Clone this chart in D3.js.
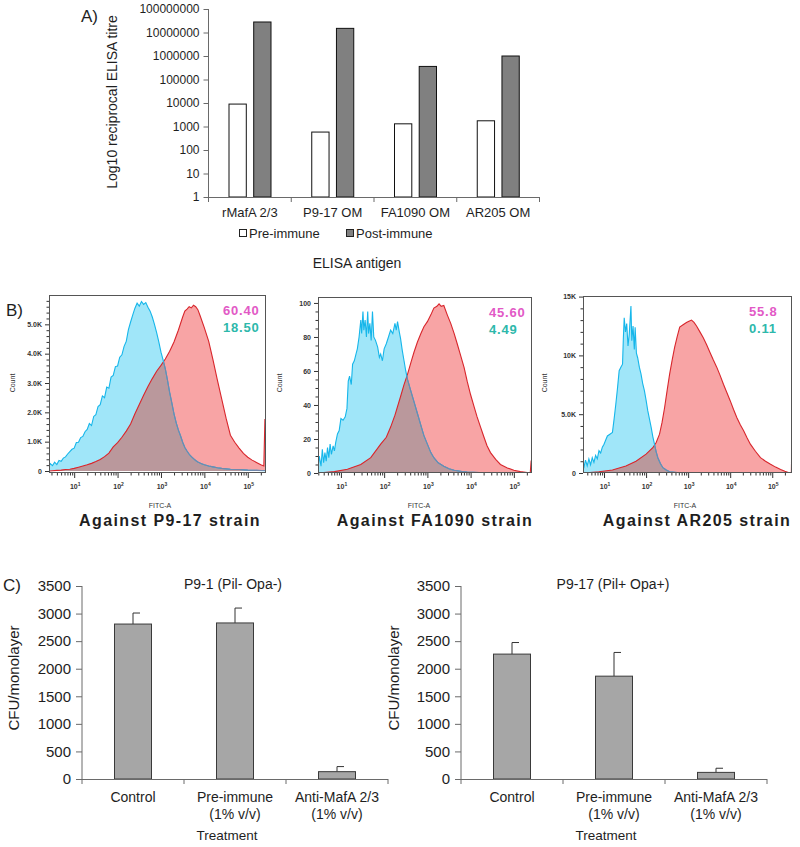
<!DOCTYPE html>
<html><head><meta charset="utf-8">
<script src="https://cdn.jsdelivr.net/npm/d3@7"></script>
<style>
body{margin:0;background:#fff}
svg{display:block}
text{font-family:"Liberation Sans",Arial,Helvetica,sans-serif}
</style>
</head><body>
<svg id="chart" width="800" height="847"></svg>
<script>
// ---------- Panel A : ELISA titres ----------
const elisaAntigens = ["rMafA 2/3", "P9-17 OM", "FA1090 OM", "AR205 OM"];
const preImmuneTitre = [9000, 580, 1300, 1750];
const postImmuneTitre = [28000000, 15000000, 360000, 1000000];
const titreTicks = [1, 10, 100, 1000, 10000, 100000, 1000000, 10000000, 100000000];
const legendLabels = ["Pre-immune", "Post-immune"];

// ---------- Panel B : flow cytometry histograms [log10 FITC-A, count] ----------
const p917Blue = [[0.40,0.12],[0.45,0.25],[0.50,0.18],[0.55,0.30],[0.60,0.22],[0.65,0.36],[0.70,0.33],[0.75,0.44],[0.80,0.48],[0.85,0.58],[0.90,0.66],[0.95,0.74],[1.00,0.78],[1.05,0.97],[1.10,0.98],[1.15,1.14],[1.20,1.18],[1.25,1.34],[1.30,1.42],[1.35,1.62],[1.40,1.55],[1.45,1.86],[1.50,1.92],[1.55,2.20],[1.60,2.26],[1.65,2.56],[1.70,2.50],[1.75,2.86],[1.80,2.82],[1.85,3.20],[1.90,3.26],[1.95,3.56],[2.00,3.58],[2.05,3.88],[2.10,3.96],[2.15,4.25],[2.20,4.42],[2.25,4.82],[2.30,5.08],[2.35,5.32],[2.40,5.55],[2.45,5.72],[2.50,5.62],[2.55,5.78],[2.60,5.68],[2.65,5.74],[2.70,5.58],[2.75,5.45],[2.80,5.25],[2.85,5.00],[2.90,4.72],[2.95,4.40],[3.00,4.05],[3.05,3.78],[3.10,3.48],[3.15,3.10],[3.20,2.68],[3.25,2.32],[3.30,1.95],[3.35,1.65],[3.40,1.40],[3.45,1.20],[3.50,0.98],[3.55,0.80],[3.60,0.68],[3.65,0.57],[3.70,0.49],[3.75,0.42],[3.80,0.36],[3.85,0.31],[3.90,0.27],[3.95,0.24],[4.00,0.21],[4.10,0.17],[4.20,0.14],[4.30,0.11],[4.40,0.09],[4.60,0.06],[4.80,0.05],[5.00,0.03],[5.20,0.02],[5.42,0.01]];
const p917Red = [[0.42,3.1],[0.43,0],[0.5,0.01],[0.6,0.02],[0.7,0.03],[0.8,0.05],[0.9,0.06],[1.0,0.09],[1.1,0.13],[1.2,0.17],[1.3,0.21],[1.4,0.26],[1.5,0.32],[1.6,0.39],[1.7,0.49],[1.8,0.61],[1.9,0.82],[2.0,0.97],[2.1,1.15],[2.2,1.36],[2.3,1.6],[2.4,1.95],[2.5,2.27],[2.6,2.58],[2.7,2.88],[2.8,3.15],[2.9,3.4],[3.0,3.6],[3.1,3.82],[3.2,4.08],[3.3,4.4],[3.4,4.8],[3.5,5.25],[3.55,5.45],[3.6,5.52],[3.65,5.6],[3.7,5.56],[3.75,5.65],[3.8,5.6],[3.85,5.5],[3.9,5.3],[4.0,4.88],[4.1,4.42],[4.2,3.78],[4.3,3.1],[4.4,2.45],[4.5,1.8],[4.6,1.22],[4.7,0.98],[4.8,0.78],[4.9,0.6],[5.0,0.47],[5.1,0.37],[5.2,0.29],[5.3,0.21],[5.37,0.17],[5.395,1.75],[5.42,1.75]];

const fa1090Blue = [[0.47,3],[0.50,10],[0.54,4],[0.57,14],[0.60,6],[0.63,12],[0.66,7],[0.69,15],[0.72,9],[0.75,17],[0.78,11],[0.82,16],[0.85,13],[0.88,18],[0.92,23],[0.96,25],[1.00,32],[1.05,31],[1.10,33],[1.14,38],[1.17,54],[1.20,57],[1.24,52],[1.27,64],[1.31,66],[1.35,70],[1.38,73],[1.42,80],[1.46,90],[1.48,82],[1.51,95],[1.53,84],[1.56,90],[1.59,80],[1.62,95],[1.64,82],[1.67,88],[1.70,78],[1.73,95],[1.76,80],[1.80,78],[1.85,74],[1.89,68],[1.92,70],[1.96,66],[2.00,73],[2.05,76],[2.10,80],[2.15,84],[2.20,82],[2.25,88],[2.28,84],[2.31,89],[2.35,83],[2.38,79],[2.42,72],[2.46,66],[2.50,60],[2.54,55],[2.62,48],[2.69,42],[2.77,35],[2.85,28],[2.92,22],[3.00,17],[3.08,12],[3.15,9],[3.25,6],[3.38,4],[3.50,2.5],[3.62,1.6],[3.80,0.9],[3.92,0.6],[4.20,0.3],[4.60,0.1],[5.00,0.05],[5.42,0]];
const fa1090Red = [[0.47,40],[0.48,0],[0.85,0.8],[1.15,2.2],[1.46,5],[1.69,9],[1.92,17],[2.05,21],[2.15,27],[2.25,34],[2.38,45],[2.46,52],[2.54,58],[2.62,65],[2.69,71],[2.77,77],[2.85,82],[2.92,86],[3.00,89],[3.08,93],[3.15,97],[3.22,98],[3.27,99.5],[3.32,98],[3.38,98.5],[3.46,93],[3.54,88],[3.62,82],[3.69,76],[3.77,69],[3.85,62],[3.92,54],[4.00,46],[4.08,39],[4.15,33],[4.23,27],[4.31,21],[4.38,16],[4.46,12],[4.58,8],[4.69,5],[4.85,3],[5.00,1.6],[5.15,0.8],[5.31,0.2],[5.38,0.2],[5.40,7],[5.42,7]];

const ar205Blue = [[0.50,0.3],[0.52,0.45],[0.56,1.1],[0.60,0.6],[0.64,1.2],[0.68,0.7],[0.72,1.3],[0.76,0.9],[0.80,1.5],[0.84,1.2],[0.88,1.9],[0.92,1.7],[0.96,2.2],[1.00,2.45],[1.04,2.8],[1.08,3.15],[1.14,3.3],[1.20,3.45],[1.24,4.6],[1.28,5.85],[1.32,7.2],[1.36,8.7],[1.40,9.0],[1.44,9.25],[1.46,11.5],[1.48,13.2],[1.51,12.0],[1.54,12.7],[1.57,10.8],[1.60,11.8],[1.62,13.0],[1.64,14.2],[1.66,11.25],[1.69,12.5],[1.72,10.5],[1.74,12.4],[1.77,10.2],[1.80,9.8],[1.84,9.0],[1.88,8.4],[1.92,7.6],[1.96,7.0],[2.00,6.2],[2.04,5.3],[2.08,4.6],[2.12,3.9],[2.16,3.1],[2.20,2.45],[2.24,1.8],[2.28,1.3],[2.34,0.8],[2.40,0.45],[2.48,0.25],[2.56,0.1],[2.80,0.02],[3.20,0],[5.47,0]];
const ar205Red = [[0.50,7.8],[0.51,0],[0.88,0.1],[1.20,0.25],[1.52,0.6],[1.76,1.0],[2.00,1.6],[2.16,2.15],[2.24,2.6],[2.32,3.3],[2.38,4.3],[2.44,5.55],[2.50,7.0],[2.56,8.4],[2.62,9.6],[2.68,10.7],[2.74,11.6],[2.80,12.4],[2.88,12.6],[2.96,12.8],[3.02,12.9],[3.08,13.0],[3.14,12.8],[3.20,12.5],[3.28,12.0],[3.36,11.5],[3.44,10.9],[3.52,10.25],[3.60,9.6],[3.68,9.0],[3.76,8.3],[3.84,7.55],[3.92,6.85],[4.00,6.15],[4.08,5.4],[4.16,4.7],[4.24,4.1],[4.32,3.6],[4.40,3.0],[4.48,2.45],[4.60,1.85],[4.72,1.3],[4.84,1.0],[4.96,0.74],[5.08,0.5],[5.20,0.3],[5.30,0.15],[5.40,0.03],[5.455,0.03],[5.465,2.2],[5.47,2.2]];

const flowStrains = ["Against P9-17 strain", "Against FA1090 strain", "Against AR205 strain"];
const postPercent = ["60.40", "45.60", "55.8"];
const prePercent = ["18.50", "4.49", "0.11"];
const decadeTicks = [1, 2, 3, 4, 5];
const p917CountTicks = [0, 1, 2, 3, 4, 5];
const fa1090CountTicks = [0, 20, 40, 60, 80, 100];
const ar205CountTicks = [0, 5, 10, 15];

// ---------- Panel C : adherence ----------
const treatments = ["Control", "Pre-immune", "Anti-MafA 2/3"];
const treatmentLabels = [["Control"], ["Pre-immune", "(1% v/v)"], ["Anti-MafA 2/3", "(1% v/v)"]];
const cfuTicks = [0, 500, 1000, 1500, 2000, 2500, 3000, 3500];
const p91Mean = [2810, 2830, 133];
const p91Err = [200, 270, 92];
const p917Mean = [2265, 1865, 120];
const p917Err = [210, 430, 75];

// =================================================================
const svg = d3.select("#chart");
const defs = svg.append("defs");
const AX = "#6a6a6a";
const INK = "#1e1e1e";

function styleAxis(g, size, color, textColor) {
  g.select(".domain").remove();
  g.selectAll("line").attr("stroke", color || AX);
  g.selectAll("text").style("font-size", size + "px").style("fill", textColor || INK);
}
function label(parent, txt, size) {
  return parent.append("text").style("font-size", size + "px").style("fill", INK).text(txt);
}

// ---------------- Panel A ----------------
(function () {
  const g = svg.append("g");
  const y = d3.scaleLog().domain([1, 1e8]).range([197, 9]);
  const x = d3.scaleBand().domain(elisaAntigens).range([208.5, 539.5]);
  const xi = d3.scaleBand().domain(["pre", "post"]).range([20.5, 62.5]).paddingInner(0.3);

  const ya = g.append("g").attr("transform", "translate(208.5,0)")
    .call(d3.axisLeft(y).tickValues(titreTicks).tickFormat(d => String(d)).tickSize(5).tickPadding(4));
  styleAxis(ya, 12);
  g.append("line").attr("x1", 208.5).attr("x2", 208.5).attr("y1", y(1e8)).attr("y2", y(1)).attr("stroke", AX);

  elisaAntigens.forEach((c, i) => {
    [["pre", preImmuneTitre[i], "#ffffff"], ["post", postImmuneTitre[i], "#808080"]].forEach(([k, v, col]) => {
      g.append("rect").attr("x", x(c) + xi(k)).attr("width", xi.bandwidth())
        .attr("y", y(v)).attr("height", y(1) - y(v))
        .attr("fill", col).attr("stroke", "#111").attr("stroke-width", 1);
    });
    label(g, c, 13).attr("x", x(c) + x.bandwidth() / 2).attr("y", 217).attr("text-anchor", "middle");
  });
  g.append("line").attr("x1", x.range()[0]).attr("x2", x.range()[1]).attr("y1", y(1) + 0.5).attr("y2", y(1) + 0.5).attr("stroke", AX);
  elisaAntigens.concat([null]).forEach((c) => {
    const xx = c === null ? x.range()[1] : x(c);
    g.append("line").attr("x1", xx).attr("x2", xx).attr("y1", y(1)).attr("y2", y(1) + 5).attr("stroke", AX);
  });
  const legCols = ["#ffffff", "#808080"];
  const legX = [239, 346];
  legendLabels.forEach((l, i) => {
    g.append("rect").attr("x", legX[i] + 0.5).attr("y", 229.5).attr("width", 7).attr("height", 7)
      .attr("fill", legCols[i]).attr("stroke", "#222");
    label(g, l, 13).attr("x", legX[i] + 10).attr("y", 238);
  });
  label(g, "ELISA antigen", 14).attr("x", 357).attr("y", 268).attr("text-anchor", "middle");
  label(g, "Log10 reciprocal ELISA titre", 14).attr("transform", "translate(117,102) rotate(-90)").attr("text-anchor", "middle");
  label(g, "A)", 17).attr("x", 81).attr("y", 22);
})();

// ---------------- Panel B ----------------
const histCfgs = [
  { id: "h1", left: 49, right: 266, top: 295, bottom: 473, xDom: [0.42, 5.42], y0: 471, yDom: [0, 6],
    blue: p917Blue, red: p917Red, ticks: p917CountTicks, minorStep: 0.2,
    fmt: d => d === 0 ? "0" : d.toFixed(1) + "K", fitcX: 160, countX: 15, titleX: 170 },
  { id: "h2", left: 318, right: 532, top: 297, bottom: 473, xDom: [0.47, 5.42], y0: 473, yDom: [0, 103.5],
    blue: fa1090Blue, red: fa1090Red, ticks: fa1090CountTicks, minorStep: 5,
    fmt: d => String(d), fitcX: 419, countX: 282, titleX: 435 },
  { id: "h3", left: 583, right: 792, top: 296, bottom: 473, xDom: [0.5, 5.47], y0: 473, yDom: [0, 15.05],
    blue: ar205Blue, red: ar205Red, ticks: ar205CountTicks, minorStep: 1,
    fmt: d => d === 0 ? "0" : (d < 10 ? d.toFixed(1) + "K" : d + "K"), fitcX: 685, countX: 547, titleX: 697 }
];

histCfgs.forEach((cfg, i) => {
  const g = svg.append("g");
  const x = d3.scaleLinear().domain(cfg.xDom).range([cfg.left, cfg.right]);
  const y = d3.scaleLinear().domain(cfg.yDom).range([cfg.y0, cfg.top]);
  const area = d3.area().x(d => x(d[0])).y0(y(0)).y1(d => y(d[1]));
  const line = d3.line().x(d => x(d[0])).y(d => y(d[1]));

  defs.append("clipPath").attr("id", cfg.id + "frame").append("rect")
    .attr("x", cfg.left).attr("y", cfg.top).attr("width", cfg.right - cfg.left).attr("height", cfg.bottom - cfg.top);
  defs.append("clipPath").attr("id", cfg.id + "blue").append("path").attr("d", area(cfg.blue));
  defs.append("clipPath").attr("id", cfg.id + "red").append("path").attr("d", area(cfg.red));

  const p = g.append("g").attr("clip-path", `url(#${cfg.id}frame)`);
  p.append("path").attr("d", area(cfg.blue)).attr("fill", "#a0e6f9");
  p.append("path").attr("d", area(cfg.red)).attr("fill", "#f8a4a5");
  p.append("g").attr("clip-path", `url(#${cfg.id}blue)`)
    .append("path").attr("d", area(cfg.red)).attr("fill", "#ba989c");
  p.append("path").attr("d", line(cfg.red)).attr("fill", "none").attr("stroke", "#d8262c").attr("stroke-width", 1.1);
  p.append("path").attr("d", line(cfg.blue)).attr("fill", "none").attr("stroke", "#16b6ea").attr("stroke-width", 1.1);
  p.append("g").attr("clip-path", `url(#${cfg.id}red)`)
    .append("path").attr("d", line(cfg.blue)).attr("fill", "none").attr("stroke", "#7586aa").attr("stroke-width", 1.1);

  g.append("rect").attr("x", cfg.left + 0.5).attr("y", cfg.top + 0.5)
    .attr("width", cfg.right - cfg.left - 1).attr("height", cfg.bottom - cfg.top - 1)
    .attr("fill", "none").attr("stroke", "#555").attr("stroke-width", 1);

  const yTop = y.invert(cfg.top);
  const minors = d3.range(0, yTop, cfg.minorStep).filter(v => !cfg.ticks.some(t => Math.abs(t - v) < 1e-6));
  const ym = g.append("g").attr("transform", `translate(${cfg.left},0)`)
    .call(d3.axisLeft(y).tickValues(minors).tickFormat("").tickSize(2.5));
  styleAxis(ym, 7, "#333");
  const ya = g.append("g").attr("transform", `translate(${cfg.left},0)`)
    .call(d3.axisLeft(y).tickValues(cfg.ticks).tickFormat(cfg.fmt).tickSize(4).tickPadding(3));
  styleAxis(ya, 7, "#333", "#333");
  ya.selectAll("text").style("font-weight", "bold");

  const minorX = [];
  [0, 1, 2, 3, 4, 5].forEach(k => [2, 3, 4, 5, 6, 7, 8, 9].forEach(m => {
    const v = k + Math.log10(m);
    if (v > cfg.xDom[0] && v < cfg.xDom[1]) minorX.push(v);
  }));
  const xm = g.append("g").attr("transform", `translate(0,${cfg.bottom})`)
    .call(d3.axisBottom(x).tickValues(minorX).tickFormat("").tickSize(2.5));
  styleAxis(xm, 7, "#333");
  const xa = g.append("g").attr("transform", `translate(0,${cfg.bottom})`)
    .call(d3.axisBottom(x).tickValues(decadeTicks).tickFormat("").tickSize(5));
  styleAxis(xa, 7, "#333");
  decadeTicks.forEach(k => {
    const t = g.append("text").attr("x", x(k) + 1).attr("y", 489).attr("text-anchor", "middle")
      .style("font-size", "7px").style("font-weight", "bold").style("fill", "#333");
    t.append("tspan").text("10");
    t.append("tspan").attr("dy", -3.5).style("font-size", "5px").text(String(k));
  });

  g.append("text").attr("x", cfg.fitcX).attr("y", 508).attr("text-anchor", "middle")
    .style("font-size", "7px").style("fill", "#333").text("FITC-A");
  g.append("text").attr("transform", `translate(${cfg.countX},383) rotate(-90)`).attr("text-anchor", "middle")
    .style("font-size", "7px").style("fill", "#333").text("Count");
  label(g, flowStrains[i], 16).attr("x", cfg.titleX).attr("y", 526).attr("text-anchor", "middle")
    .style("font-weight", "bold").style("letter-spacing", "1.4px");

  g.append("text").attr("x", cfg.right - 43).attr("y", cfg.top + 20).style("font-size", "13px")
    .style("font-weight", "bold").style("letter-spacing", "0.8px").style("fill", "#e259c6").text(postPercent[i]);
  g.append("text").attr("x", cfg.right - 43).attr("y", cfg.top + 37).style("font-size", "13px")
    .style("font-weight", "bold").style("letter-spacing", "0.8px").style("fill", "#2db8ab").text(prePercent[i]);
});
label(svg, "B)", 17).attr("x", 6).attr("y", 316);

// ---------------- Panel C ----------------
function cfuPanel(cfg) {
  const g = svg.append("g");
  const y = d3.scaleLinear().domain([0, 3500]).range([779, 586]);
  const x = d3.scaleBand().domain(treatments).range([cfg.left, cfg.right]);
  const bw = 37;
  const ya = g.append("g").attr("transform", `translate(${cfg.left},0)`)
    .call(d3.axisLeft(y).tickValues(cfuTicks).tickFormat(d3.format("d")).tickSize(6).tickPadding(5));
  styleAxis(ya, 15);
  g.append("line").attr("x1", cfg.left).attr("x2", cfg.left).attr("y1", y(3500)).attr("y2", y(0)).attr("stroke", AX);
  treatments.forEach((c, i) => {
    const cx = x(c) + x.bandwidth() / 2;
    const top = cfg.mean[i] + cfg.err[i];
    g.append("line").attr("x1", cx).attr("x2", cx).attr("y1", y(cfg.mean[i])).attr("y2", y(top)).attr("stroke", "#333");
    g.append("line").attr("x1", cx).attr("x2", cx + 7).attr("y1", y(top)).attr("y2", y(top)).attr("stroke", "#333");
    g.append("rect").attr("x", cx - bw / 2).attr("width", bw).attr("y", y(cfg.mean[i]))
      .attr("height", y(0) - y(cfg.mean[i])).attr("fill", "#a6a6a6").attr("stroke", "#3a3a3a");
    treatmentLabels[i].forEach((t, j) => {
      label(g, t, 14).attr("x", cx).attr("y", 802 + j * 17).attr("text-anchor", "middle");
    });
  });
  g.append("line").attr("x1", cfg.left).attr("x2", cfg.right).attr("y1", y(0) + 0.5).attr("y2", y(0) + 0.5).attr("stroke", AX);
  treatments.concat([null]).forEach(c => {
    const xx = c === null ? cfg.right : x(c);
    g.append("line").attr("x1", xx).attr("x2", xx).attr("y1", y(0)).attr("y2", y(0) + 5).attr("stroke", AX);
  });
  label(g, cfg.title, 14).attr("x", cfg.titleX).attr("y", 589).attr("text-anchor", "middle");
  label(g, "Treatment", 13.5).attr("x", (cfg.left + cfg.right) / 2 - 8).attr("y", 840).attr("text-anchor", "middle");
  label(g, "CFU/monolayer", 15).attr("transform", `translate(${cfg.ylabX},678) rotate(-90)`).attr("text-anchor", "middle");
}
cfuPanel({ left: 82, right: 388, mean: p91Mean, err: p91Err, title: "P9-1 (Pil- Opa-)", titleX: 233, ylabX: 19 });
cfuPanel({ left: 461, right: 767, mean: p917Mean, err: p917Err, title: "P9-17 (Pil+ Opa+)", titleX: 613, ylabX: 399 });
label(svg, "C)", 17).attr("x", 3).attr("y", 591);
</script>
</body></html>
